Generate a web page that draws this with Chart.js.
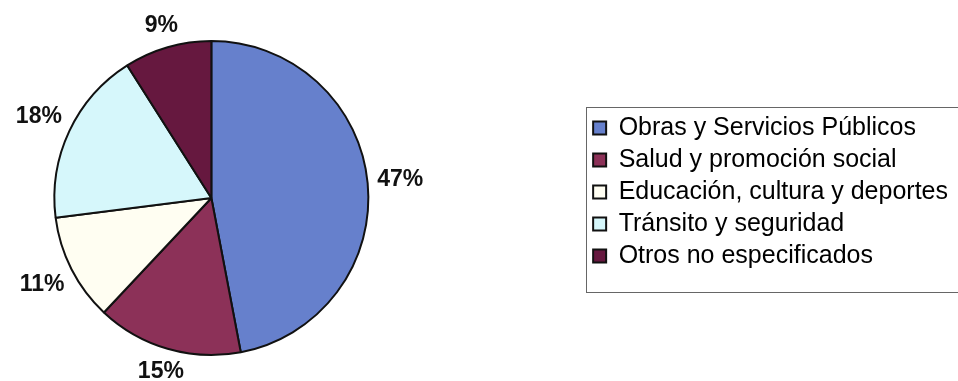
<!DOCTYPE html>
<html lang="es">
<head>
    <meta charset="UTF-8">
    <title>Distribución por área</title>
    <script src="https://cdn.jsdelivr.net/npm/chart.js"></script>
    <style>
        html, body {
            margin: 0;
            padding: 0;
            background: #ffffff;
        }
        #wrap {
            width: 958px;
            height: 381px;
        }
    </style>
</head>
<body>
    <div id="wrap"><canvas id="areasChart"></canvas></div>

    <script>
        const areas = [
            'Obras y Servicios Públicos',
            'Salud y promoción social',
            'Educación, cultura y deportes',
            'Tránsito y seguridad',
            'Otros no especificados'
        ];
        const porcentajes = [47, 15, 11, 18, 9];
        const colores = ['#6680CC', '#8C3158', '#FFFEF2', '#D6F7FB', '#66183F'];

        // percentage labels outside each slice; the label box sits a fixed gap from the rim
        const etiquetas = {
            id: 'etiquetas',
            afterDatasetsDraw(chart) {
                const ctx = chart.ctx;
                const meta = chart.getDatasetMeta(0);
                const gap = 9;
                const halfH = 9;
                ctx.save();
                ctx.font = 'bold 23px "Liberation Sans", Arial, sans-serif';
                ctx.fillStyle = '#111';
                ctx.textAlign = 'center';
                ctx.textBaseline = 'middle';
                meta.data.forEach((arc, i) => {
                    const p = arc.getProps(['x', 'y', 'startAngle', 'endAngle', 'outerRadius'], true);
                    const mid = (p.startAngle + p.endAngle) / 2;
                    const txt = porcentajes[i] + '%';
                    const halfW = ctx.measureText(txt).width / 2;
                    const c = Math.cos(mid), s = Math.sin(mid);
                    const r = p.outerRadius + gap + Math.abs(c) * halfW + Math.abs(s) * halfH;
                    ctx.fillText(txt, p.x + c * r, p.y + s * r);
                });
                ctx.restore();
            }
        };

        // thin frame around the legend
        const marcoLeyenda = {
            id: 'marcoLeyenda',
            afterDraw(chart) {
                const lg = chart.legend;
                if (!lg || !lg.legendHitBoxes.length) return;
                const boxes = lg.legendHitBoxes;
                const first = boxes[0];
                const last = boxes[boxes.length - 1];
                const ctx = chart.ctx;
                ctx.save();
                ctx.strokeStyle = '#666';
                ctx.lineWidth = 1;
                const top = Math.round(first.top - 8.5) + 0.5;
                const bottom = Math.round(last.top + last.height + 24) + 0.5;
                const left = Math.round(lg.left) + 0.5;
                ctx.strokeRect(left, top, chart.width + 10 - left, bottom - top);
                ctx.restore();
            }
        };

        new Chart(document.getElementById('areasChart'), {
            type: 'pie',
            data: {
                labels: areas,
                datasets: [{
                    data: porcentajes,
                    backgroundColor: colores,
                    borderColor: '#111',
                    borderWidth: 2
                }]
            },
            options: {
                responsive: true,
                maintainAspectRatio: false,
                animation: false,
                layout: {
                    padding: { left: 53, top: 40, bottom: 25, right: 0 }
                },
                plugins: {
                    tooltip: { enabled: false },
                    // empty title used as a gap between pie and legend
                    title: {
                        display: true,
                        text: '',
                        position: 'right',
                        weight: 500,
                        padding: { top: 101, bottom: 101 }
                    },
                    legend: {
                        position: 'right',
                        align: 'start',
                        maxWidth: 390,
                        title: {
                            display: true,
                            text: '',
                            padding: { top: 27, bottom: 27 }
                        },
                        labels: {
                            boxWidth: 13,
                            boxHeight: 13,
                            padding: 7,
                            color: '#000',
                            font: { family: '"Liberation Sans", Arial, sans-serif', size: 25 }
                        }
                    }
                }
            },
            plugins: [etiquetas, marcoLeyenda]
        });
    </script>
</body>
</html>
